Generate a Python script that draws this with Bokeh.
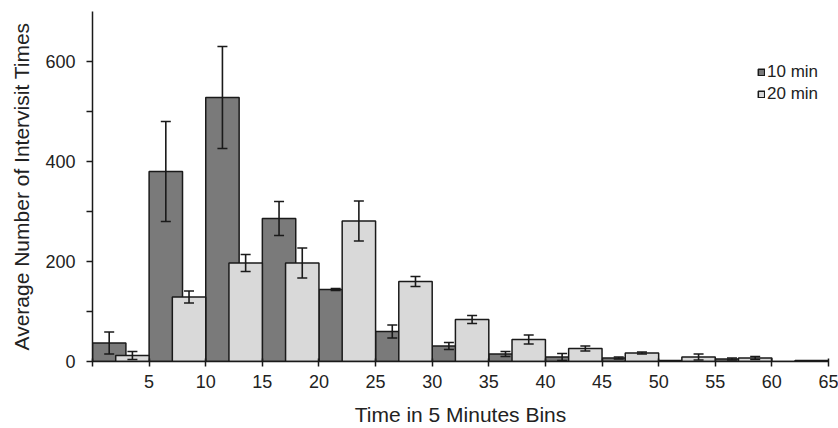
from bokeh.plotting import figure
from bokeh.models import (ColumnDataSource, Range1d, FixedTicker, Whisker, TeeHead,
                          Legend, LegendItem)
from bokeh.transform import dodge
from bokeh.embed import file_html
from bokeh.resources import INLINE

# Upper edge of each 5-minute bin
bin_ends = [5, 10, 15, 20, 25, 30, 35, 40, 45, 50, 55, 60, 65]

# Average number of intervisit times per bin, with error half-widths
ten_min = [37, 380, 528, 286, 144, 60, 31, 15, 9, 7, 2, 5, 0]
ten_err = [22, 100, 102, 34, 2, 13, 7, 5, 7, 2, 0, 2, 0]
twenty_min = [12, 129, 197, 197, 281, 160, 84, 44, 26, 17, 9, 7, 2]
twenty_err = [8, 12, 17, 30, 40, 10, 8, 9, 5, 2, 6, 3, 0]

x_ticks = [0, 5, 10, 15, 20, 25, 30, 35, 40, 45, 50, 55, 60, 65]
y_ticks = [0, 200, 400, 600]
y_minor = [100, 300, 500]

FONT = "Liberation Sans"
DARK = "#7a7a7a"
LIGHT = "#d9d9d9"
EDGE = "#1a1a1a"

BAR_W = 2.95
OFFSET = 2.5 - BAR_W / 2

centers = [e - 2.5 for e in bin_ends]
src = ColumnDataSource(dict(
    center=centers,
    ten=ten_min,
    twenty=twenty_min,
))

p = figure(width=838, height=428, output_backend="svg", toolbar_location=None,
           x_range=Range1d(0, 65), y_range=Range1d(0, 700),
           min_border_left=92, min_border_right=10, min_border_top=11,
           min_border_bottom=66)
p.outline_line_color = None
p.xgrid.visible = False
p.ygrid.visible = False
p.background_fill_color = "white"
p.border_fill_color = "white"

r10 = p.vbar(x=dodge("center", -OFFSET, range=p.x_range), top="ten", width=BAR_W,
             source=src, fill_color=DARK, line_color=EDGE, line_width=1.5)
r20 = p.vbar(x=dodge("center", OFFSET, range=p.x_range), top="twenty", width=BAR_W,
             source=src, fill_color=LIGHT, line_color=EDGE, line_width=1.5)

# Error bars (skip bins with no spread), drawn above the bars
def err_source(shift, vals, errs):
    xs, lo, hi = [], [], []
    for c, v, e in zip(centers, vals, errs):
        if e > 0:
            xs.append(c + shift)
            lo.append(v - e)
            hi.append(v + e)
    return ColumnDataSource(dict(x=xs, lower=lo, upper=hi))

for shift, vals, errs in ((-OFFSET, ten_min, ten_err), (OFFSET, twenty_min, twenty_err)):
    es = err_source(shift, vals, errs)
    w = Whisker(base="x", lower="lower", upper="upper", source=es, level="overlay",
                line_color=EDGE, line_width=1.6,
                lower_head=TeeHead(size=10, line_color=EDGE, line_width=1.6),
                upper_head=TeeHead(size=10, line_color=EDGE, line_width=1.6))
    p.add_layout(w)

# Axes
xa = p.xaxis[0]
xa.ticker = FixedTicker(ticks=x_ticks)
xa.major_label_overrides = {0: ""}
xa.axis_label = "Time in 5 Minutes Bins"
xa.minor_tick_line_color = None
xa.major_tick_in = 3
xa.major_tick_out = 5
xa.major_label_standoff = 8
xa.axis_label_standoff = 12

ya = p.yaxis[0]
ya.ticker = FixedTicker(ticks=y_ticks, minor_ticks=y_minor)
ya.axis_label = "Average Number of Intervisit Times"
ya.major_tick_in = 0
ya.major_tick_out = 6
ya.minor_tick_in = 0
ya.minor_tick_out = 6
ya.major_label_standoff = 11
ya.axis_label_standoff = 9

for ax in (xa, ya):
    ax.axis_line_color = EDGE
    ax.axis_line_width = 1.5
    ax.major_tick_line_color = EDGE
    ax.major_tick_line_width = 1.5
    ax.minor_tick_line_width = 1.5
    ax.major_label_text_font = FONT
    ax.major_label_text_font_size = "18px"
    ax.major_label_text_color = "#222222"
    ax.axis_label_text_font = FONT
    ax.axis_label_text_font_size = "21px"
    ax.axis_label_text_font_style = "normal"
    ax.axis_label_text_color = "#222222"
ya.minor_tick_line_color = EDGE

legend = Legend(items=[LegendItem(label="10 min", renderers=[r10]),
                       LegendItem(label="20 min", renderers=[r20])],
                location=(665, 257), padding=0, spacing=2,
                glyph_width=8, glyph_height=8, label_standoff=2,
                label_height=20, label_text_font=FONT,
                label_text_font_size="17px", label_text_color="#222222",
                border_line_color=None, background_fill_alpha=0)
p.add_layout(legend)

open("out.html", "w").write(file_html(p, INLINE))
